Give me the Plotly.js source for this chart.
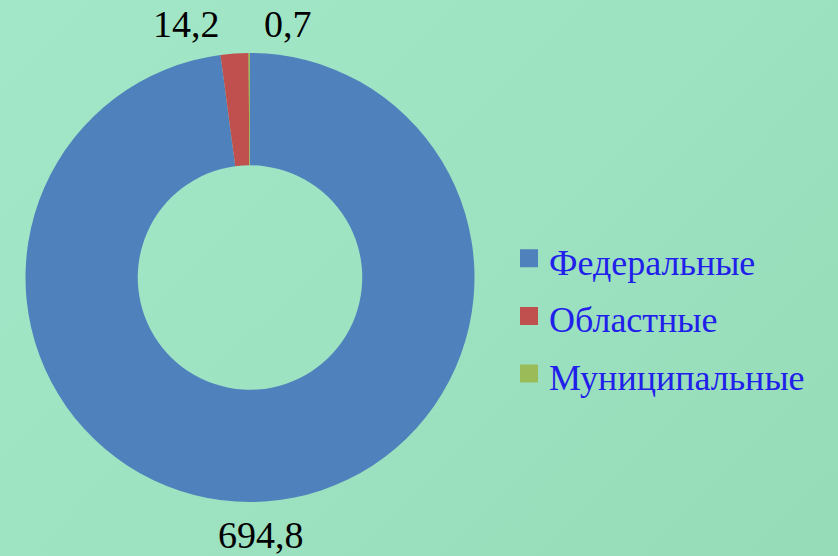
<!DOCTYPE html>
<html>
<head>
<meta charset="utf-8">
<script src="https://cdn.plot.ly/plotly-3.0.1.min.js"></script>
<style>
html,body{margin:0;padding:0;}
body{width:838px;height:556px;background:linear-gradient(135deg,#a2e8c8 0%,#9de2c1 50%,#97dcb8 100%);}
#chart{width:838px;height:556px;}
</style>
</head>
<body>
<div id="chart"></div>
<script>
const categories = ["Федеральные", "Областные", "Муниципальные"];
const values = [694.8, 14.2, 0.7];
const colors = ["#4f81bd", "#c0504d", "#9bbb59"];

const fmt = v => v.toFixed(1).replace('.', ',');

const W = 838, H = 556;
const cx = 250, cy = 277.5, R = 224.5;

// value label placements (pixel centres of the labels)
const labelPos = [[261, 535], [186, 24], [288, 24]];

const trace = {
  type: 'pie',
  labels: categories.map(c => '<span style="font-size:36px">' + c + '</span>'),
  values: values,
  sort: false,
  direction: 'clockwise',
  rotation: 0,
  hole: 0.5,
  textinfo: 'none',
  hoverinfo: 'none',
  marker: {colors: colors, line: {width: 0}},
  domain: {
    x: [(cx - R) / W, (cx + R) / W],
    y: [(H - cy - R) / H, (H - cy + R) / H]
  }
};

const annotations = values.map((v, i) => ({
  text: fmt(v),
  xref: 'paper', yref: 'paper',
  x: labelPos[i][0] / W,
  y: (H - labelPos[i][1]) / H,
  xanchor: 'center', yanchor: 'middle',
  showarrow: false,
  font: {family: 'Liberation Serif, Times New Roman, serif', size: 38, color: '#000000'}
}));

const layout = {
  width: W, height: H,
  margin: {l: 0, r: 0, t: 0, b: 0},
  paper_bgcolor: 'rgba(0,0,0,0)',
  plot_bgcolor: 'rgba(0,0,0,0)',
  showlegend: true,
  legend: {
    x: 509 / W, xanchor: 'left',
    y: (H - 316) / H, yanchor: 'middle',
    font: {family: 'Liberation Serif, Times New Roman, serif', size: 42, color: '#2020ea'},
    bgcolor: 'rgba(0,0,0,0)',
    borderwidth: 0
  },
  annotations: annotations
};

Plotly.newPlot('chart', [trace], layout, {displayModeBar: false, staticPlot: true}).then(gd => {
  document.querySelectorAll('.legendpoints path').forEach(p => {
    p.setAttribute('d', 'M9,9V-9H-9V9Z');
  });
});
</script>
</body>
</html>
